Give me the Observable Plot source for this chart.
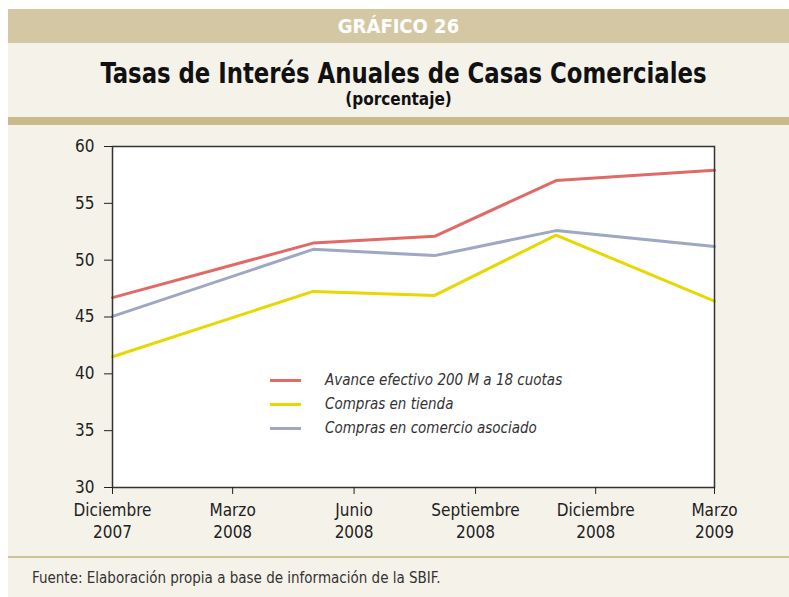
<!DOCTYPE html>
<html>
<head>
<meta charset="utf-8">
<script src="https://cdn.jsdelivr.net/npm/d3@7"></script>
<script src="https://cdn.jsdelivr.net/npm/@observablehq/plot@0.6"></script>
<style>
  html, body { margin: 0; padding: 0; background: #ffffff; }
  body { width: 789px; height: 597px; position: relative; overflow: hidden;
         font-family: "Liberation Sans Narrow", "DejaVu Sans Condensed", "Open Sans", sans-serif; }
  #panel { position: absolute; left: 8px; top: 9px; width: 781px; height: 588px; background: #f5f2ea; }
  #header { position: absolute; left: 0; top: 0; width: 781px; height: 34px; background: #d3c8a3;
            color: #fff; font-weight: bold; font-size: 20px; text-align: center; line-height: 35px; }
  #title { position: absolute; left: 0; top: 48px; width: 781px; text-align: center;
           font-weight: bold; font-size: 28px; color: #111; transform: translateX(5px) scaleX(0.905); transform-origin: 390px 0; }
  #subtitle { position: absolute; left: 0; top: 80px; width: 781px; text-align: center;
              font-weight: bold; font-size: 17px; color: #111; }
  #rule1 { position: absolute; left: 0; top: 108px; width: 781px; height: 8px; background: #c9bb8c; }
  #rule2 { position: absolute; left: 0; top: 547px; width: 781px; height: 2px; background: #cfc196; }
  #caption { position: absolute; left: 24px; top: 560px; font-size: 15px; color: #333; }
  #chart { position: absolute; left: 0; top: 130px; }
  #legend { position: absolute; left: 270px; top: 368px; font-style: italic; font-size: 15px; color: #333; }
  .li { height: 24px; display: flex; align-items: center; }
  .sw { width: 31px; height: 3px; margin-right: 24px; }
</style>
</head>
<body>
<div id="panel">
  <div id="header">GRÁFICO 26</div>
  <div id="title">Tasas de Interés Anuales de Casas Comerciales</div>
  <div id="subtitle">(porcentaje)</div>
  <div id="rule1"></div>
  <div id="rule2"></div>
  <div id="caption">Fuente: Elaboración propia a base de información de la SBIF.</div>
</div>
<div id="chart"></div>
<div id="legend"></div>
<script>
// Data
const months = ["2007-12", "2008-05", "2008-08", "2008-11", "2009-03"];
const avanceEfectivo = [46.7, 51.5, 52.1, 57.0, 57.9];
const comprasTienda = [41.5, 47.25, 46.9, 52.2, 46.4];
const comprasComercio = [45.05, 50.95, 50.4, 52.6, 51.2];
const seriesNames = ["Avance efectivo 200 M a 18 cuotas", "Compras en tienda", "Compras en comercio asociado"];
const seriesColors = ["#e06a66", "#e6d800", "#9ea7c3"];
const tickMonths = ["2007-12", "2008-03", "2008-06", "2008-09", "2008-12", "2009-03"];
const tickLabels = ["Diciembre\n2007", "Marzo\n2008", "Junio\n2008", "Septiembre\n2008", "Diciembre\n2008", "Marzo\n2009"];
const yTicks = [30, 35, 40, 45, 50, 55, 60];

const parse = d3.utcParse("%Y-%m");
const allSeries = [avanceEfectivo, comprasTienda, comprasComercio];
const rows = [];
allSeries.forEach((vals, si) => {
  vals.forEach((v, i) => rows.push({date: parse(months[i]), value: v, serie: seriesNames[si]}));
});
const tickDates = tickMonths.map(parse);
const labelFor = new Map(tickDates.map((d, i) => [+d, tickLabels[i]]));

const chart = Plot.plot({
  width: 789,
  height: 420,
  marginLeft: 112,
  marginRight: 75,
  marginTop: 16,
  marginBottom: 63,
  style: {background: "transparent", fontFamily: '"Liberation Sans Narrow", "DejaVu Sans Condensed", sans-serif', fontSize: "17px", color: "#222"},
  x: {type: "utc", domain: [tickDates[0], tickDates[tickDates.length - 1]], label: null},
  y: {domain: [30, 60], label: null},
  color: {domain: seriesNames, range: seriesColors},
  marks: [
    Plot.frame({fill: "white", stroke: null}),
    Plot.lineY(rows, {x: "date", y: "value", stroke: "serie", strokeWidth: 3}),
    Plot.frame({stroke: "#333", strokeWidth: 1.5}),
    Plot.axisX({ticks: tickDates, tickFormat: d => labelFor.get(+d), tickSize: 7, tickPadding: 6, fontSize: 17, lineHeight: 1.3}),
    Plot.axisY({ticks: yTicks, tickSize: 8, tickPadding: 10, fontSize: 17})
  ]
});
document.getElementById("chart").appendChild(chart);

const legend = document.getElementById("legend");
seriesNames.forEach((n, i) => {
  const row = document.createElement("div");
  row.className = "li";
  const sw = document.createElement("div");
  sw.className = "sw";
  sw.style.background = seriesColors[i];
  const t = document.createElement("span");
  t.textContent = n;
  row.appendChild(sw); row.appendChild(t);
  legend.appendChild(row);
});
</script>
</body>
</html>
